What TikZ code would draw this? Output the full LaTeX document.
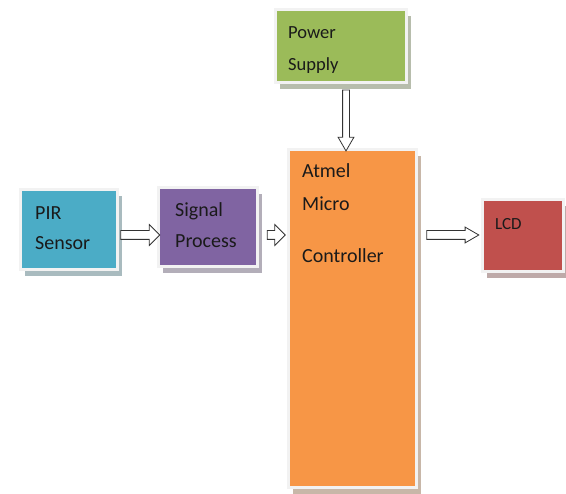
\documentclass[tikz,border=0pt]{standalone}
\usepackage{fontspec}
\setmainfont{Carlito}
\usetikzlibrary{shapes.arrows,calc}
\definecolor{cgreen}{HTML}{9BBB59}
\definecolor{corange}{HTML}{F79646}
\definecolor{cblue}{HTML}{4BACC6}
\definecolor{cpurple}{HTML}{8064A2}
\definecolor{cred}{HTML}{C0504D}
\definecolor{txt}{HTML}{1A1A1A}
\definecolor{frame}{HTML}{F2F2F2}
\tikzset{
  blk/.style={anchor=north west, inner sep=0pt, outer sep=0pt,
    fill=#1, draw=frame, line width=3pt,
    preaction={fill=#1!30!gray!60, draw=none,
      transform canvas={shift={(5pt,-6pt)}}}},
  lbl/.style={anchor=base west, inner sep=0pt, text=txt, font=\fontsize{20}{24}\selectfont},
  barrow/.style={single arrow, draw=black!80, fill=white, line width=0.8pt,
    inner xsep=0pt, inner ysep=4pt, outer sep=0pt,
    single arrow head extend=6pt, single arrow tip angle=90},
}
\begin{document}
\begin{tikzpicture}[x=1pt,y=-1pt]
\useasboundingbox (0,0) rectangle (566,494);
% boxes
\node[blk=cgreen, minimum width=131pt, minimum height=73pt] (pow) at (275,10) {};
\node[blk=corange, minimum width=128pt, minimum height=338pt] (mcu) at (288,150) {};
\node[blk=cblue, minimum width=97pt, minimum height=80pt] (pir) at (20,190) {};
\node[blk=cpurple, minimum width=99pt, minimum height=79pt] (sig) at (158,188) {};
\node[blk=cred, minimum width=81pt, minimum height=72pt] (lcd) at (482,200) {};
% texts
\node[lbl, font=\fontsize{18.5}{22}\selectfont] (t1) at (288,39) {Power};
\node[lbl, font=\fontsize{18.5}{22}\selectfont] (t2) at (288,71) {Supply};
\node[lbl] (t3) at (302,178) {Atmel};
\node[lbl] (t4) at (302,211) {Micro};
\node[lbl] (t5) at (302,263) {Controller};
\node[lbl] (t6) at (35,220) {PIR};
\node[lbl] (t7) at (35,250) {Sensor};
\node[lbl] (t8) at (175,217) {Signal};
\node[lbl] (t9) at (175,248) {Process};
\node[lbl, font=\fontsize{17}{20}\selectfont] (t10) at (495,230) {LCD};
% arrow end points
\coordinate (a1s) at ($(pir.east)+(2,5)$);
\coordinate (a1e) at ($(sig.west)+(-1,7.5)$);
\coordinate (a2s) at ($(sig.east)+(7,7.5)$);
\coordinate (a2e) at ($(mcu.west)+(-4,-84)$);
\coordinate (a3s) at ($(mcu.east)+(7,-84)$);
\coordinate (a3e) at ($(lcd.west)+(-7,-1)$);
\coordinate (a4s) at ($(pow.south)+(5.5,4)$);
\coordinate (a4e) at ($(mcu.north)+(-6,-2)$);
% arrows
\node[barrow, minimum height=39pt, minimum width=20pt] (ar1) at ($(a1s)!0.5!(a1e)$) {};
\node[barrow, minimum height=18pt, minimum width=18pt] (ar2) at ($(a2s)!0.5!(a2e)$) {};
\node[barrow, minimum height=52pt, minimum width=15pt, single arrow tip angle=60, single arrow head extend=3.5pt] (ar3) at ($(a3s)!0.5!(a3e)$) {};
\node[barrow, minimum height=61pt, minimum width=15pt, inner ysep=0pt, inner xsep=3pt, single arrow head extend=4.5pt, single arrow tip angle=60, shape border rotate=270] (ar4) at ($(a4s)!0.5!(a4e)$) {};
\end{tikzpicture}
\end{document}
